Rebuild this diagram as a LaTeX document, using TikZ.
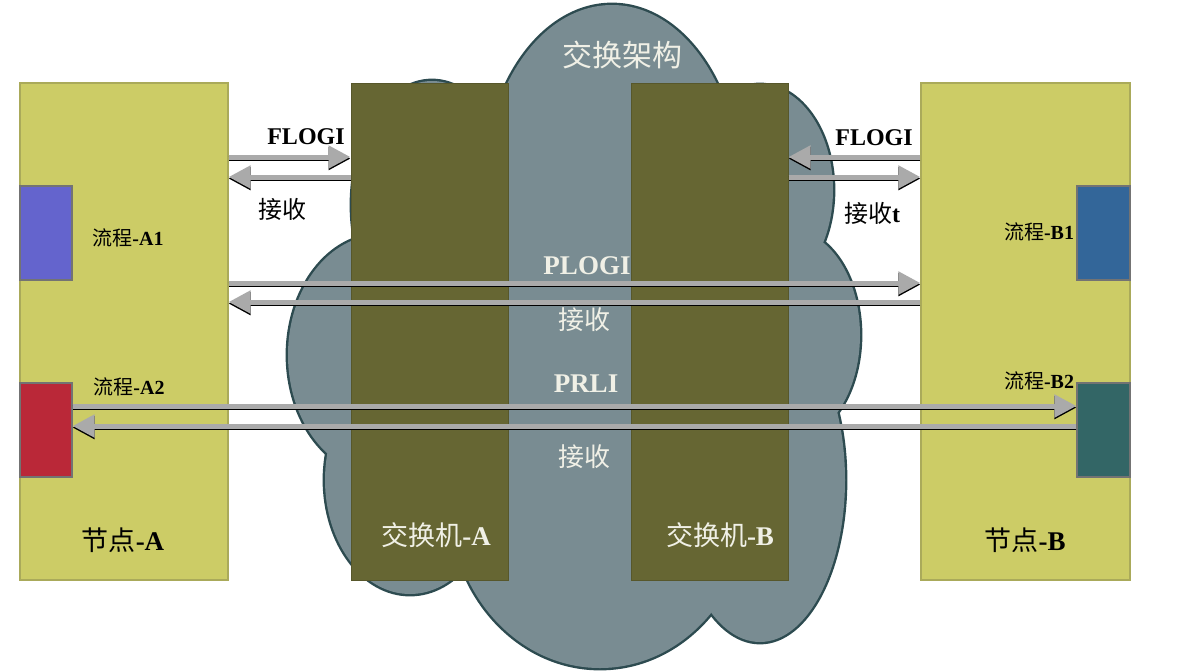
\documentclass[tikz,border=0pt]{standalone}
\usepackage{fontspec}
\setmainfont{Liberation Serif}
\newfontfamily\cjk{Noto Sans CJK SC}
\usetikzlibrary{arrows.meta}

\definecolor{nodecol}{RGB}{204,204,102}
\definecolor{nodeedge}{RGB}{170,170,90}
\definecolor{switchcol}{RGB}{102,102,51}
\definecolor{cloudcol}{RGB}{121,140,146}
\definecolor{cloudedge}{RGB}{45,75,80}
\definecolor{msgcol}{RGB}{170,170,170}
\definecolor{procAone}{RGB}{100,100,205}
\definecolor{procAtwo}{RGB}{186,40,56}
\definecolor{procBone}{RGB}{51,102,153}
\definecolor{procBtwo}{RGB}{51,102,102}
\definecolor{paletxt}{RGB}{240,240,230}

\newcommand\cjkb[2]{{\cjk #1}\textbf{#2}}

\tikzstyle{host} = [rectangle,draw=nodeedge,fill=nodecol,line width=0.6pt,minimum width=104pt,minimum height=248.5pt,inner sep=0pt]
\tikzstyle{fabsw} = [rectangle,draw=switchcol!85!black,fill=switchcol,line width=0.5pt,minimum width=78.5pt,minimum height=248.5pt,inner sep=0pt]
\tikzstyle{proc} = [rectangle,draw=black!55,line width=0.6pt,minimum width=26pt,minimum height=47pt,inner sep=0pt]
\tikzstyle{msg} = [-{Triangle[length=11pt,width=11pt]},draw=msgcol,line width=2.5pt,preaction={draw=black,line width=2.5pt,transform canvas={yshift=-0.8pt}}]
\tikzstyle{dark} = [text=black,inner sep=0pt]
\tikzstyle{light} = [text=paletxt,inner sep=0pt]

\begin{document}
\begin{tikzpicture}[x=0.5pt,y=-0.5pt]
    \useasboundingbox (0,0) rectangle (1200,671);

    % cloud: outline of all bumps first, then fill them
    \foreach \cx/\cy/\rx/\ry in {612/190/128/185,600/500/150/168,760/480/85/162,790/335/70/105,760/190/73/105,380/355/92/120,410/480/85/114,432/205/80/124}
        \draw[cloudedge,line width=2.4pt] (\cx,\cy) ellipse [x radius=\rx,y radius=\ry];
    \foreach \cx/\cy/\rx/\ry in {612/190/128/185,600/500/150/168,760/480/85/162,790/335/70/105,760/190/73/105,380/355/92/120,410/480/85/114,432/205/80/124}
        \fill[cloudcol] (\cx,\cy) ellipse [x radius=\rx,y radius=\ry];
    \fill[cloudcol] (400,110) rectangle (740,560);

    \node[host](nodeA) at (124,331.5) {};
    \node[host,minimum width=104.5pt](nodeB) at (1025.5,331.5) {};
    \node[fabsw](swA) at (429.5,331.5) {};
    \node[fabsw](swB) at (709.5,331.5) {};
    \node[proc,fill=procAone](procA1) at (46,233) {};
    \node[proc,fill=procAtwo](procA2) at (46,430) {};
    \node[proc,fill=procBone,minimum width=26.5pt](procB1) at (1103.5,233) {};
    \node[proc,fill=procBtwo,minimum width=26.5pt](procB2) at (1103.5,430) {};

    \draw[msg] (nodeA.east |- 0,157) -- (swA.west |- 0,157);
    \draw[msg] (swA.west |- 0,177) -- (nodeA.east |- 0,177);
    \draw[msg] (nodeB.west |- 0,157) -- (swB.east |- 0,157);
    \draw[msg] (swB.east |- 0,177) -- (nodeB.west |- 0,177);
    \draw[msg] (nodeA.east |- 0,283) -- (nodeB.west |- 0,283);
    \draw[msg] (nodeB.west |- 0,302) -- (nodeA.east |- 0,302);
    \draw[msg] (procA2.east |- 0,406) -- (procB2.west |- 0,406);
    \draw[msg] (procB2.west |- 0,426) -- (procA2.east |- 0,426);

    \node[light,font=\fontsize{15}{18}\selectfont](fabric) at (622,55) {\cjk 交换架构};
    \node[dark,font=\fontsize{13.5}{16}\selectfont](hostAtxt) at (123,540) {\cjkb{节点}{-A}};
    \node[dark,font=\fontsize{13.5}{16}\selectfont](hostBtxt) at (1025,540) {\cjkb{节点}{-B}};
    \node[light,font=\fontsize{13.5}{16}\selectfont](swAtxt) at (436,535) {\cjkb{交换机}{-A}};
    \node[light,font=\fontsize{13.5}{16}\selectfont](swBtxt) at (720,535) {\cjkb{交换机}{-B}};
    \node[dark,font=\fontsize{10}{12}\selectfont](procA1txt) at (128,238) {\cjkb{流程}{-A1}};
    \node[dark,font=\fontsize{10}{12}\selectfont](procA2txt) at (129,387) {\cjkb{流程}{-A2}};
    \node[dark,font=\fontsize{10}{12}\selectfont](procB1txt) at (1039,232) {\cjkb{流程}{-B1}};
    \node[dark,font=\fontsize{10}{12}\selectfont](procB2txt) at (1039,381) {\cjkb{流程}{-B2}};

    \node[dark,font=\fontsize{12}{14}\selectfont\bfseries](flogiAtxt) at (306,137) {FLOGI};
    \node[dark,font=\fontsize{12}{14}\selectfont](accAtxt) at (282,209) {\cjk 接收};
    \node[dark,font=\fontsize{12}{14}\selectfont\bfseries](flogiBtxt) at (874,138) {FLOGI};
    \node[dark,font=\fontsize{12}{14}\selectfont](accBtxt) at (872,213) {\cjkb{接收}{t}};
    \node[light,font=\fontsize{13.5}{16}\selectfont\bfseries](plogitxt) at (587,266) {PLOGI};
    \node[light,font=\fontsize{13}{15}\selectfont](accPtxt) at (584,320) {\cjk 接收};
    \node[light,font=\fontsize{13.5}{16}\selectfont\bfseries](prlitxt) at (586,384) {PRLI};
    \node[light,font=\fontsize{13}{15}\selectfont](accRtxt) at (584,457) {\cjk 接收};

\end{tikzpicture}
\end{document}
